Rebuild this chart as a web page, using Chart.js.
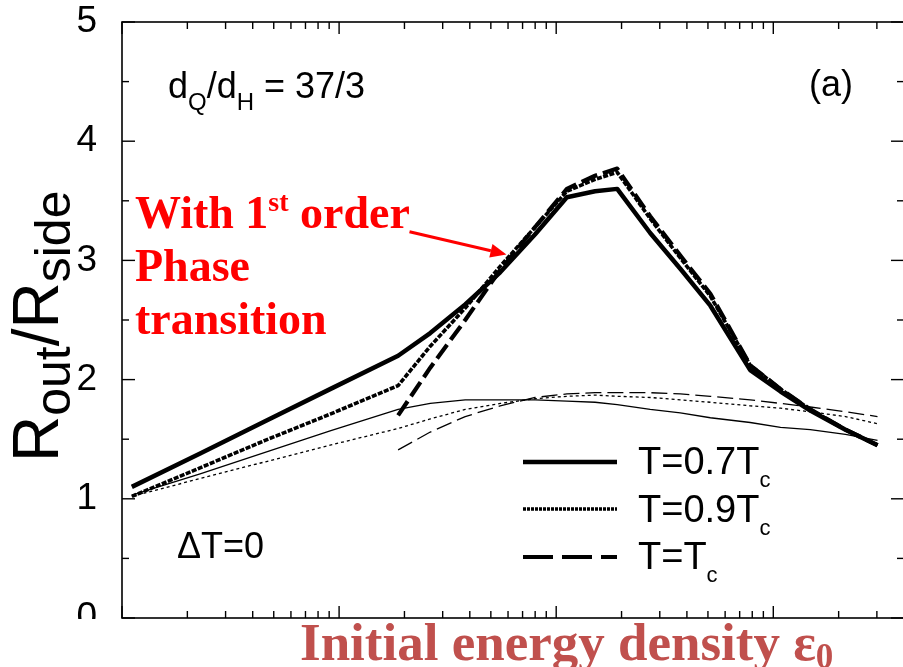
<!DOCTYPE html>
<html><head><meta charset="utf-8">
<script src="https://cdn.jsdelivr.net/npm/chart.js@4/dist/chart.umd.min.js"></script>
<style>html,body{margin:0;padding:0;background:#fff;overflow:hidden;}#wrap{width:906px;height:667px;}</style>
</head><body><div id="wrap"><canvas id="c" width="906" height="667"></canvas></div>
<script>
// ---- data ----
const energy = [0.111,0.229,0.456,0.909,1.87,2.63,3.81,5.52,8.0,11.2,15.1,19.1,27.1,37.3,51.3,78.3,108,148,215,302];
const ptT07   = [1.10,1.38,1.65,1.92,2.20,2.39,2.63,2.90,3.22,3.53,3.58,3.60,3.23,2.93,2.62,2.08,1.90,1.74,1.58,1.45];
const ptT09   = [1.02,1.26,1.49,1.71,1.95,2.28,2.60,2.95,3.28,3.58,3.68,3.74,3.35,3.02,2.70,2.12,1.92,1.75,1.58,1.45];
const ptT10   = [null,null,null,null,1.70,2.10,2.50,2.92,3.28,3.60,3.71,3.77,3.37,3.04,2.72,2.12,1.92,1.75,1.58,1.45];
const noT07   = [1.03,1.21,1.39,1.57,1.75,1.80,1.83,1.83,1.83,1.82,1.81,1.79,1.75,1.72,1.68,1.64,1.60,1.58,1.54,1.49];
const noT09   = [1.02,1.17,1.31,1.45,1.59,1.67,1.75,1.80,1.84,1.86,1.87,1.86,1.85,1.83,1.81,1.78,1.76,1.73,1.69,1.63];
const noT10   = [null,null,null,null,1.41,1.56,1.69,1.78,1.85,1.88,1.89,1.89,1.89,1.88,1.86,1.83,1.80,1.77,1.73,1.69];
const legendLabels = ['T=0.7T','T=0.9T','T=T'];
const xMajorTicks = [0.1,1,10,100];
const xMinorTicks = [0.2,0.3,0.4,0.5,0.6,0.7,0.8,0.9,2,3,4,5,6,7,8,9,20,30,40,50,60,70,80,90,200,300];
const yMajorTicks = [0,1,2,3,4,5];
const yMinorTicks = [0.5,1.5,2.5,3.5,4.5];

const SANS = '"Liberation Sans", Arial, sans-serif';
const SERIF = '"Liberation Serif", "Times New Roman", serif';

function pts(arr){ return energy.map((e,i)=>({x:e,y:arr[i]})).filter(p=>p.y!==null); }
function ds(label, arr, w, dash){
  return {label, data:pts(arr), borderColor:'#000', backgroundColor:'#000', borderWidth:w,
    borderDash:dash, pointRadius:0, tension:0, fill:false, borderCapStyle:'butt', borderJoinStyle:'round'};
}

function drawParts(ctx, x, y, parts){
  let cx = x;
  parts.forEach(p=>{
    ctx.font = `${p[4]||''} ${p[1]}px ${p[3]||SANS}`;
    ctx.fillText(p[0], cx, y + (p[2]||0));
    cx += ctx.measureText(p[0]).width;
  });
  return cx;
}

const overlay = {
  id:'overlay',
  afterDraw(chart){
    const {ctx, chartArea:a, scales:{x, y}} = chart;
    ctx.save();
    ctx.fillStyle = '#fff';
    ctx.fillRect(0, a.bottom + 1, chart.width, chart.height - a.bottom);
    ctx.strokeStyle = '#000'; ctx.lineWidth = 1.6;
    ctx.strokeRect(a.left, a.top, a.right - a.left, a.bottom - a.top);
    const ln = (x1,y1,x2,y2)=>{ctx.beginPath();ctx.moveTo(x1,y1);ctx.lineTo(x2,y2);ctx.stroke();};
    ctx.lineWidth = 1.4;
    xMajorTicks.forEach(v=>{const p=x.getPixelForValue(v); ln(p,a.top,p,a.top+12); ln(p,a.bottom,p,a.bottom-12);});
    xMinorTicks.forEach(v=>{const p=x.getPixelForValue(v); ln(p,a.top,p,a.top+7); ln(p,a.bottom,p,a.bottom-7);});
    yMajorTicks.forEach(v=>{const p=y.getPixelForValue(v); ln(a.left,p,a.left+13,p); ln(a.right,p,a.right-13,p);});
    yMinorTicks.forEach(v=>{const p=y.getPixelForValue(v); ln(a.left,p,a.left+7,p); ln(a.right,p,a.right-7,p);});

    ctx.fillStyle = '#000'; ctx.textBaseline = 'alphabetic'; ctx.textAlign = 'left';
    ctx.save();
    ctx.translate(58, 462); ctx.rotate(-Math.PI/2);
    drawParts(ctx, 0, 0, [['R',64],['out',50,12],['/R',64],['side',50,12]]);
    ctx.restore();
    drawParts(ctx, 168, 98, [['d',36],['Q',24,12],['/d',36],['H',24,12],[' = 37/3',36]]);
    drawParts(ctx, 809, 96, [['(a)',36]]);
    drawParts(ctx, 177, 558, [['\u0394T=0',36]]);
    const leg = [
      {yl:462, yt:474, w:4.5, dash:[]},
      {yl:509, yt:522, w:3.4, dash:[3,1]},
      {yl:557, yt:569, w:4.2, dash:[30,9]}
    ];
    leg.forEach((l,i)=>{
      ctx.save(); ctx.lineWidth=l.w; ctx.setLineDash(l.dash); ctx.lineCap='butt';
      ln(523, l.yl, 617, l.yl); ctx.restore();
      drawParts(ctx, 638, l.yt, [[legendLabels[i],38],['c',22,13]]);
    });
    ctx.fillStyle = '#FF0000';
    drawParts(ctx, 135, 228, [['With 1',46,0,SERIF,'bold'],['st',28,-17,SERIF,'bold'],[' order',46,0,SERIF,'bold']]);
    drawParts(ctx, 135, 281, [['Phase',46,0,SERIF,'bold']]);
    drawParts(ctx, 135, 334, [['transition',46,0,SERIF,'bold']]);
    const tx = x.getPixelForValue(2.11), ty = y.getPixelForValue(3.24);
    const hx = x.getPixelForValue(5.9), hy = y.getPixelForValue(3.05);
    const ang = Math.atan2(hy-ty, hx-tx);
    ctx.strokeStyle = '#FF0000'; ctx.lineWidth = 3;
    const bx = hx - 16*Math.cos(ang), by = hy - 16*Math.sin(ang);
    ln(tx, ty, bx, by);
    ctx.beginPath();
    ctx.moveTo(hx, hy);
    ctx.lineTo(bx + 7*Math.sin(ang), by - 7*Math.cos(ang));
    ctx.lineTo(bx - 7*Math.sin(ang), by + 7*Math.cos(ang));
    ctx.closePath(); ctx.fill();
    ctx.fillStyle = '#C0504D';
    drawParts(ctx, 300, 660, [['Initial energy density \u03b5',53,0,SERIF,'bold'],['0',35,8,SERIF,'bold']]);
    ctx.restore();
  }
};

new Chart(document.getElementById('c'), {
  type:'line',
  data:{ datasets:[
    ds('T=0.7Tc (no PT)', noT07, 1.3, []),
    ds('T=0.9Tc (no PT)', noT09, 1.3, [3,3]),
    ds('T=Tc (no PT)', noT10, 1.3, [16,6]),
    ds('T=0.7Tc', ptT07, 4.5, []),
    ds('T=0.9Tc', ptT09, 3.6, [5,1.5]),
    ds('T=Tc', ptT10, 4.2, [17,6])
  ]},
  options:{
    responsive:false, animation:false, devicePixelRatio:1,
    layout:{padding:{top:22,right:2,left:0,bottom:0}},
    plugins:{legend:{display:false}, tooltip:{enabled:false}},
    scales:{
      x:{type:'logarithmic', min:0.1, max:400, ticks:{display:false}, grid:{display:false}, border:{display:false},
         afterFit(s){s.height=49; s.paddingLeft=0; s.paddingRight=0;}},
      y:{min:0, max:5, ticks:{stepSize:1, color:'#000', padding:25, font:{size:37, family:SANS}},
         grid:{display:false, drawTicks:false}, border:{display:false},
         afterFit(s){s.width=122; s.paddingTop=0; s.paddingBottom=0;}}
    }
  },
  plugins:[overlay]
});
</script></body></html>
